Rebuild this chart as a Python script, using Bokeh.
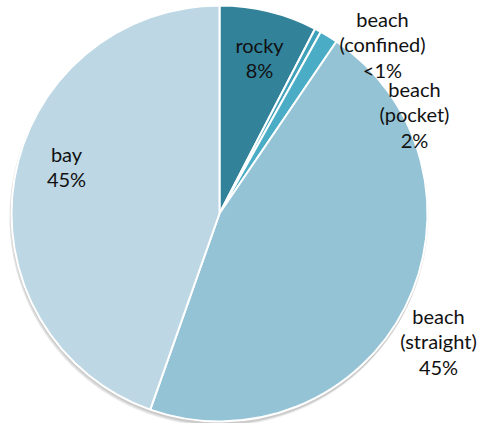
import math
from bokeh.plotting import figure
from bokeh.models import Range1d, ColumnDataSource
from bokeh.core.properties import value
from bokeh.embed import file_html
from bokeh.resources import INLINE

# data
categories = ["rocky", "beach (confined)", "beach (pocket)", "beach (straight)", "bay"]
shares = [7.6, 0.5, 1.4, 45.9, 44.6]
label_texts = ["rocky\n8%", "beach\n(confined)\n<1%", "beach\n(pocket)\n2%", "beach\n(straight)\n45%", "bay\n45%"]
colors = ["#32829a", "#3fa1ba", "#4bacc6", "#93c3d5", "#bdd8e4"]

# layout (picture pixel coords)
W, H = 479, 423
cx, cy, R = 219, 213, 208
label_xy = [(259, 57), (382, 44), (414, 114), (438, 341), (66, 166)]

def Y(yimg):
    return H - yimg

p = figure(width=W, height=H, output_backend="svg", toolbar_location=None,
           x_range=Range1d(0, W), y_range=Range1d(0, H),
           min_border=0)
p.axis.visible = False
p.grid.visible = False
p.outline_line_color = None
p.background_fill_color = "white"

total = sum(shares)
starts, ends = [], []
acc = 0.0
for s in shares:
    a0 = math.pi / 2 - 2 * math.pi * acc / total
    acc += s
    a1 = math.pi / 2 - 2 * math.pi * acc / total
    starts.append(a1)
    ends.append(a0)

# soft shadow
for dx, dy, a in [(-1, 4, 0.05), (-1, 3, 0.07), (0, 2, 0.09)]:
    p.circle(x=[cx + dx], y=[Y(cy + dy)], radius=R + 1, fill_color="#000000",
             fill_alpha=a, line_color=None)

src = ColumnDataSource(dict(start=starts, end=ends, color=colors, cat=categories))
p.wedge(x=cx, y=Y(cy), radius=R, start_angle="start", end_angle="end",
        fill_color="color", line_color="white", line_width=2, source=src)

lsrc = ColumnDataSource(dict(x=[a for a, b in label_xy], y=[Y(b) for a, b in label_xy],
                             t=label_texts))
p.text(x="x", y="y", text="t", source=lsrc, text_align="center",
       text_baseline="middle", text_font=value("Lato"), text_font_size="20px",
       text_color="#111111", text_line_height=1.05)

open("out.html", "w").write(file_html(p, INLINE))
